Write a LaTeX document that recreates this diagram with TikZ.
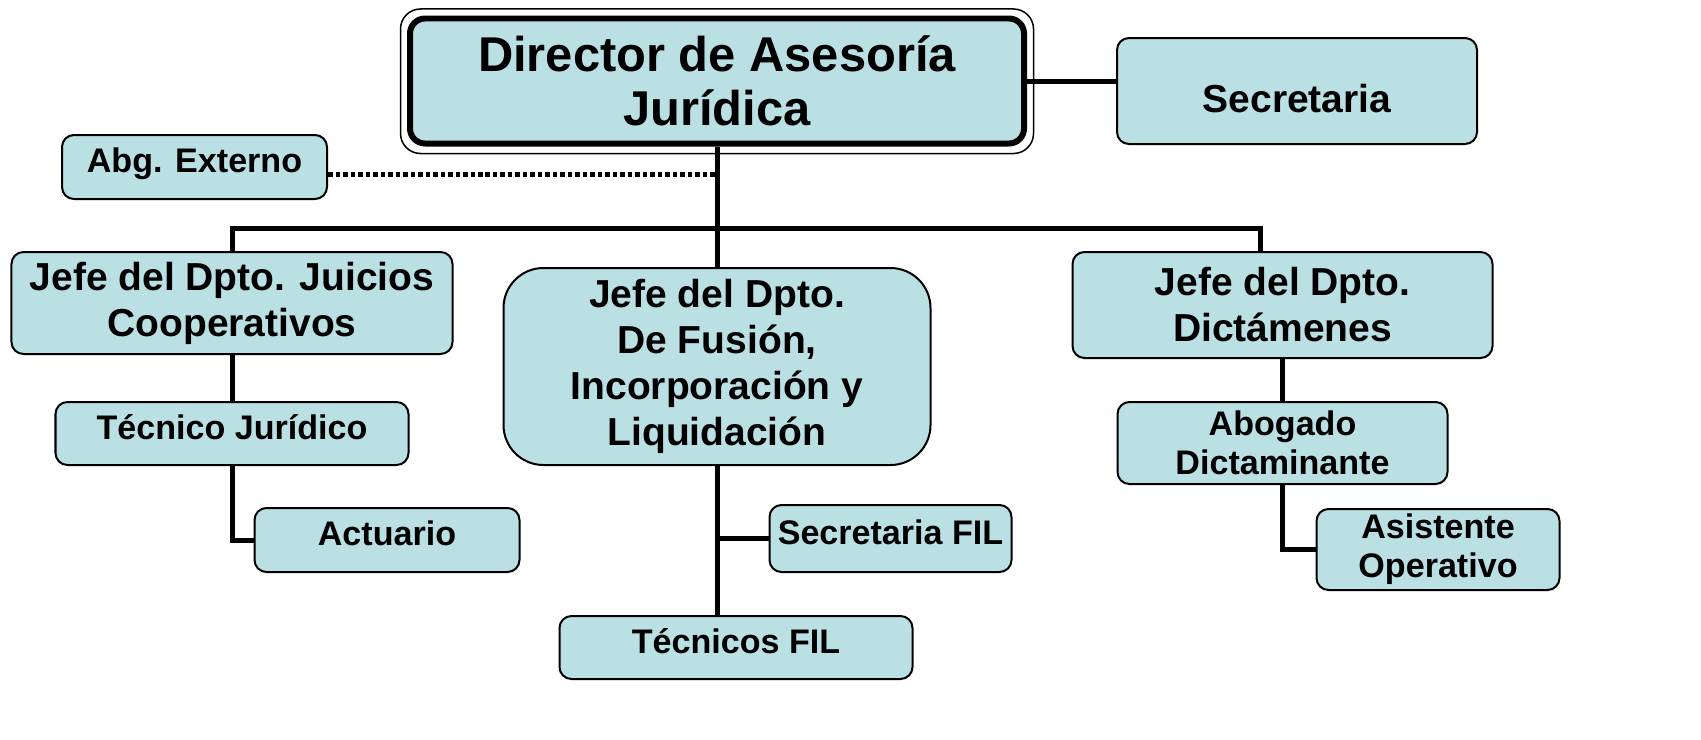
\documentclass[tikz,border=0pt]{standalone}
\usepackage{fontspec}
\setmainfont{Liberation Sans}
\usepackage{xcolor}
\usetikzlibrary{positioning}

\definecolor{boxfill}{RGB}{187,224,228}

\begin{document}
\begin{tikzpicture}[auto,
    every node/.style={on grid,inner sep=0pt,align=center},
    box/.style={draw,fill=boxfill,line width=0.02cm,rounded corners=0.12cm},
    bigtext/.style={font=\fontsize{13.9}{15.4}\selectfont\bfseries},
    midtext/.style={font=\fontsize{11.1}{13.1}\selectfont\bfseries},
    smalltext/.style={font=\fontsize{9.7}{11}\selectfont\bfseries},
    oneline/.style={smalltext,text height=0.3cm,text depth=0.19cm},
    link/.style={line width=0.05cm}]
    \useasboundingbox (0,0) rectangle (17.01,-7.39);
    \node[box,bigtext,line width=0.06cm,rounded corners=0.15cm,minimum width=6.14cm,minimum height=1.25cm] (dir) at (7.17,-0.81) {Director de Asesoría\\Jurídica};
    \draw[line width=0.015cm,rounded corners=0.2cm] ([shift={(-0.065cm,0.065cm)}]dir.north west) rectangle ([shift={(0.065cm,-0.07cm)}]dir.south east);
    \node[box,midtext,text height=0.42cm,text depth=0cm,minimum width=3.6cm,minimum height=1.06cm,right of=dir,node distance=5.8cm,yshift=-1mm] (sec) {Secretaria};
    \node[box,oneline,minimum width=2.65cm,minimum height=0.64cm,left of=dir,node distance=5.225cm,yshift=-8.6mm] (abg) {Abg. Externo};
    \node[box,midtext,rounded corners=0.4cm,minimum width=4.27cm,minimum height=1.97cm,below of=dir,node distance=2.855cm] (fus) {Jefe del Dpto.\\De Fusión,\\Incorporación y\\Liquidación};
    \node[box,midtext,minimum width=4.41cm,minimum height=1.02cm,left of=fus,node distance=4.85cm,yshift=6.35mm] (juic) {Jefe del Dpto. Juicios\\Cooperativos};
    \node[box,midtext,minimum width=4.2cm,minimum height=1.06cm,right of=fus,node distance=5.655cm,yshift=6.15mm] (dict) {Jefe del Dpto.\\Dictámenes};
    \node[box,oneline,minimum width=3.53cm,minimum height=0.63cm,below of=juic,node distance=1.305cm] (tecj) {Técnico Jurídico};
    \node[box,oneline,minimum width=2.65cm,minimum height=0.64cm,below of=tecj,node distance=1.065cm,xshift=1.55cm] (act) {Actuario};
    \node[box,oneline,minimum width=2.42cm,minimum height=0.67cm,below of=fus,node distance=1.72cm,xshift=1.735cm] (secfil) {Secretaria FIL};
    \node[box,oneline,minimum width=3.53cm,minimum height=0.63cm,below of=fus,node distance=2.81cm,xshift=1.9mm] (tecfil) {Técnicos FIL};
    \node[box,smalltext,minimum width=3.3cm,minimum height=0.82cm,below of=dict,node distance=1.38cm] (abog) {Abogado\\Dictaminante};
    \node[box,smalltext,minimum width=2.43cm,minimum height=0.81cm,below of=abog,node distance=1.065cm,xshift=1.555cm] (asis) {Asistente\\Operativo};
    \coordinate (bus) at ([yshift=-0.82cm]dir.south);
    \draw[link] (dir.east) -- (dir.east -| sec.west);
    \draw[link,dash pattern=on 0.045cm off 0.03cm] ([yshift=-0.7mm]abg.east) -- ([yshift=-0.7mm]abg.east -| dir.south);
    \draw[link] (dir.south) -- (dir.south |- fus.north);
    \draw[link] (juic.north) |- (bus) -| ([xshift=-2.2mm]dict.north);
    \draw[link] (juic.south) -- (tecj.north);
    \draw[link] (tecj.south) |- (act.west);
    \draw[link] (fus.south) -- (fus.south |- tecfil.north);
    \draw[link] (fus.south |- secfil.west) -- (secfil.west);
    \draw[link] (dict.south) -- (abog.north);
    \draw[link] (abog.south) |- (asis.west);
  \end{tikzpicture}
\end{document}
